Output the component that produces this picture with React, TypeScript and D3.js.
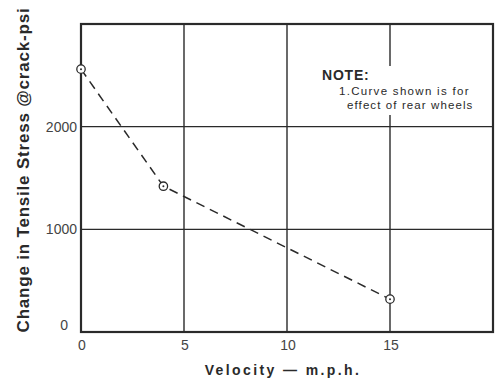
import React from "react";
import * as d3 from "d3";

const velocity = [0, 4, 15];
const stress = [2560, 1420, 320];
const xTicks = [0, 5, 10, 15];
const yTicks = [0, 1000, 2000];
const xGrid = [5, 10, 15];
const yGrid = [1000, 2000];
const noteLines = ["1.Curve shown is for", "effect of rear wheels"];

export default function App() {
  const W = 495, H = 381;
  const x = d3.scaleLinear().domain([0, 20]).range([81, 493]);
  const y = d3.scaleLinear().domain([0, 3000]).range([332, 24]);
  const line = d3.line<number>().x((d, i) => x(velocity[i])).y((d) => y(d));
  const font = "'Liberation Sans', Arial, sans-serif";
  const ink = "#2a2a2a";
  return (
    <svg width={W} height={H} style={{ position: "absolute", left: 0, top: 0, background: "#fff" }}>
      {xGrid.map((v) => (
        <line key={"xg" + v} x1={x(v)} x2={x(v)} y1={y(3000)} y2={y(0)} stroke={ink} strokeWidth={1.4} />
      ))}
      {yGrid.map((v) => (
        <line key={"yg" + v} x1={x(0)} x2={x(20)} y1={y(v)} y2={y(v)} stroke={ink} strokeWidth={1.4} />
      ))}
      <rect x={322} y={66} width={166} height={49} fill="#fff" />
      <rect x={x(0)} y={y(3000)} width={x(20) - x(0)} height={y(0) - y(3000)} fill="none" stroke={ink} strokeWidth={2.2} />
      <path d={line(stress) || ""} fill="none" stroke={ink} strokeWidth={1.5} strokeDasharray="9,6" />
      {stress.map((s, i) => (
        <g key={"p" + i}>
          <circle cx={x(velocity[i])} cy={y(s)} r={4.2} fill="#fff" stroke={ink} strokeWidth={1.3} />
          <circle cx={x(velocity[i])} cy={y(s)} r={1} fill={ink} />
        </g>
      ))}
      {yTicks.map((v) => (
        <text key={"yt" + v} x={v === 0 ? 68 : 77} y={v === 0 ? y(v) - 2 : y(v) + 5} textAnchor="end" fontFamily={font} fontSize={14} fill="#444">
          {v}
        </text>
      ))}
      {xTicks.map((v) => (
        <text key={"xt" + v} x={x(v) + 1} y={350} textAnchor="middle" fontFamily={font} fontSize={14} fill="#444">
          {v}
        </text>
      ))}
      <text x={322} y={80} fontFamily={font} fontSize={14} fontWeight="bold" fill={ink} letterSpacing={0.8}>NOTE:</text>
      <text x={339} y={95} fontFamily={font} fontSize={11.5} fill={ink} letterSpacing={1.3}>{noteLines[0]}</text>
      <text x={347} y={109} fontFamily={font} fontSize={11.5} fill={ink} letterSpacing={1.1}>{noteLines[1]}</text>
      <text x={283} y={375} textAnchor="middle" fontFamily={font} fontSize={14} fontWeight="bold" fill={ink} letterSpacing={2.4}>
        Velocity — m.p.h.
      </text>
      <text transform="translate(29,170) rotate(-90)" textAnchor="middle" fontFamily={font} fontSize={17} fontWeight="bold" fill={ink} letterSpacing={0.8}>
        Change in Tensile Stress @crack-psi
      </text>
    </svg>
  );
}
